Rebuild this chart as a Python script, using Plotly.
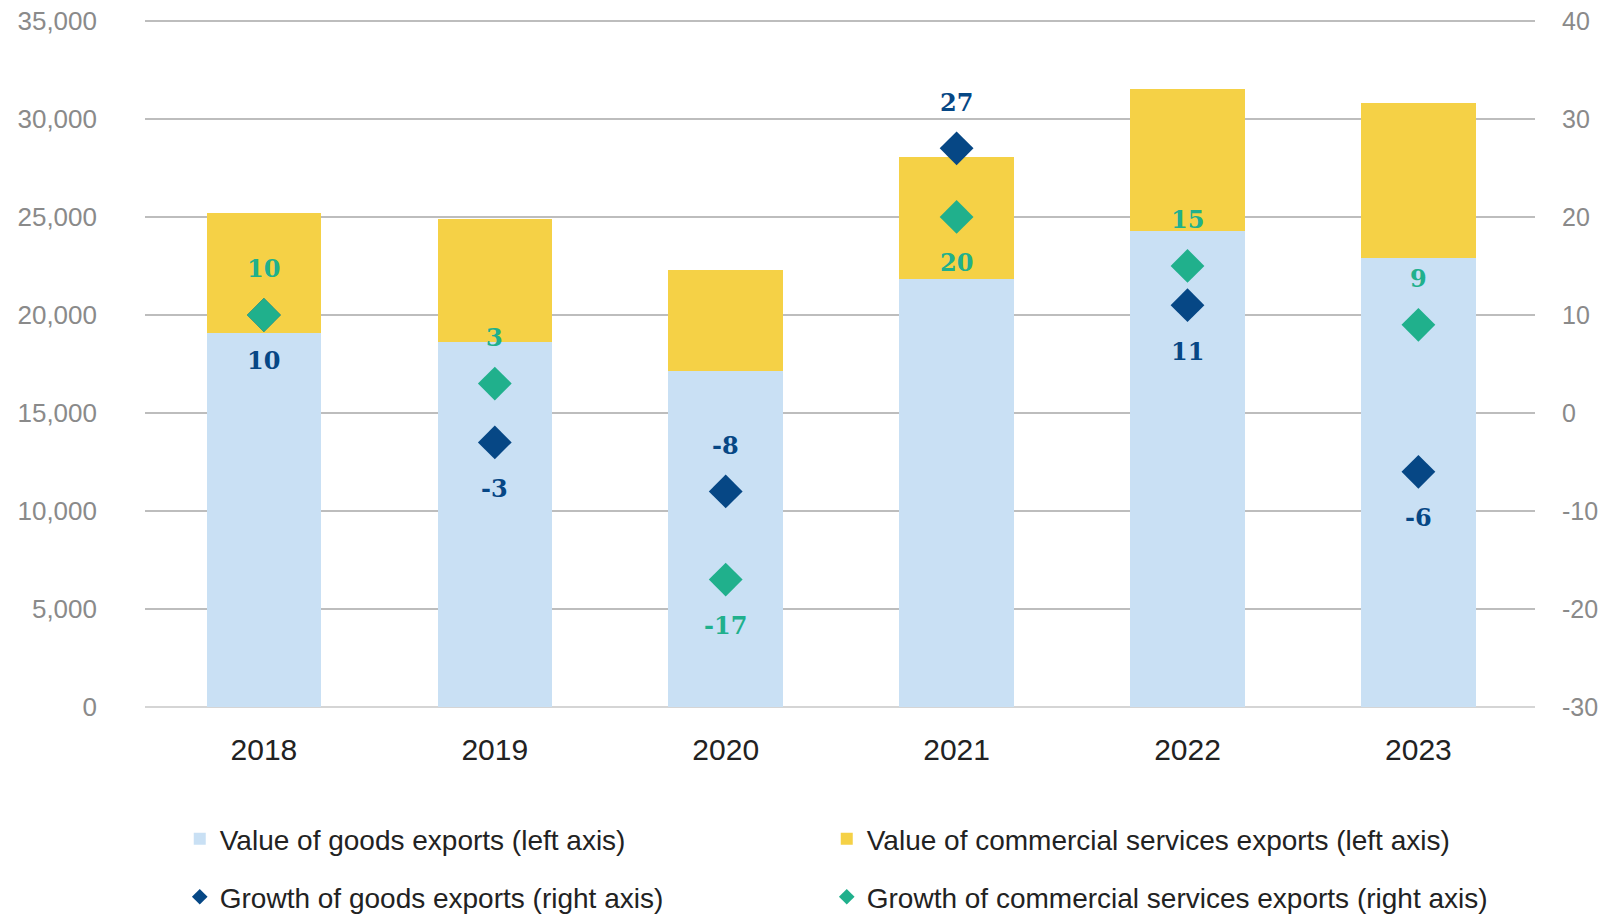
import plotly.graph_objects as go

years = ["2018", "2019", "2020", "2021", "2022", "2023"]
goods_value = [19100, 18600, 17150, 21850, 24300, 22900]
services_value = [6100, 6300, 5150, 6200, 7250, 7900]
goods_growth = [10, -3, -8, 27, 11, -6]
services_growth = [10, 3, -17, 20, 15, 9]
goods_label_side = ["below", "below", "above", "above", "below", "below"]
services_label_side = ["above", "above", "below", "below", "above", "above"]

left_ticks = [0, 5000, 10000, 15000, 20000, 25000, 30000, 35000]
right_ticks = [-30, -20, -10, 0, 10, 20, 30, 40]
right_tick_labels = ["-30", "-20", "-10", "0", "10", "20", "30", "40"]

C_GOODS = "#C9E0F4"
C_SERV = "#F5D146"
C_GG = "#064785"
C_SG = "#20B08C"

fig = go.Figure()
fig.add_trace(go.Bar(x=years, y=goods_value, name="Value of goods exports (left axis)",
                     marker=dict(color=C_GOODS, line=dict(width=0)), legend="legend"))
fig.add_trace(go.Bar(x=years, y=services_value, name="Value of commercial services exports (left axis)",
                     marker=dict(color=C_SERV, line=dict(width=0)), legend="legend",
                     legendwidth=700))
fig.add_trace(go.Scatter(x=years, y=goods_growth, yaxis="y2", mode="markers",
                         name="Growth of goods exports (right axis)",
                         marker=dict(symbol="diamond", size=26, color=C_GG), legend="legend2"))
fig.add_trace(go.Scatter(x=years, y=services_growth, yaxis="y2", mode="markers",
                         name="Growth of commercial services exports (right axis)",
                         marker=dict(symbol="diamond", size=26, color=C_SG), legend="legend2",
                         legendwidth=700))

label_font = "DejaVu Serif"
for vals, sides, col in [(goods_growth, goods_label_side, C_GG),
                         (services_growth, services_label_side, C_SG)]:
    for i, (v, s) in enumerate(zip(vals, sides)):
        fig.add_annotation(x=i, y=v, xref="x", yref="y2", text=f"<b>{v}</b>",
                           showarrow=False, yshift=46 if s == "above" else -46,
                           font=dict(family=label_font, size=24, color=col))

fig.update_layout(
    width=1605, height=914,
    margin=dict(l=145, r=70, t=19, b=207, autoexpand=False),
    paper_bgcolor="white", plot_bgcolor="white",
    barmode="stack", bargap=0.504,
    showlegend=True,
    font=dict(family="Liberation Sans, Arial, sans-serif"),
    xaxis=dict(type="category", range=[-0.515, len(years) - 0.495], showgrid=False,
               showline=False, zeroline=False,
               ticks="", tickfont=dict(size=30, color="#222222"), ticklabelstandoff=22),
    yaxis=dict(range=[0, 35100], tickvals=left_ticks, tickformat=",",
               showgrid=True, gridcolor="#BDBDBD", gridwidth=1.5,
               zeroline=True, zerolinecolor="#D5D5D5", zerolinewidth=1.5,
               showline=False, ticks="", ticklabelstandoff=47,
               tickfont=dict(size=26, color="#8A8A8A")),
    yaxis2=dict(range=[-30, 40.2], tickvals=right_ticks, ticktext=right_tick_labels,
                overlaying="y", side="right",
                showgrid=False, zeroline=False, showline=False, ticks="",
                ticklabelstandoff=26, tickfont=dict(size=25, color="#8A8A8A")),
    legend=dict(orientation="h", x=0.025, xanchor="left", yref="container",
                y=0.0821, yanchor="middle",
                entrywidth=602, entrywidthmode="pixels", traceorder="normal",
                font=dict(size=28, color="#222222"), bgcolor="rgba(0,0,0,0)"),
    legend2=dict(orientation="h", x=0.025, xanchor="left", yref="container",
                 y=0.0186, yanchor="middle",
                 entrywidth=602, entrywidthmode="pixels", traceorder="normal",
                 itemsizing="constant",
                 font=dict(size=28, color="#222222"), bgcolor="rgba(0,0,0,0)"),
)

fig.write_html("out.html")
